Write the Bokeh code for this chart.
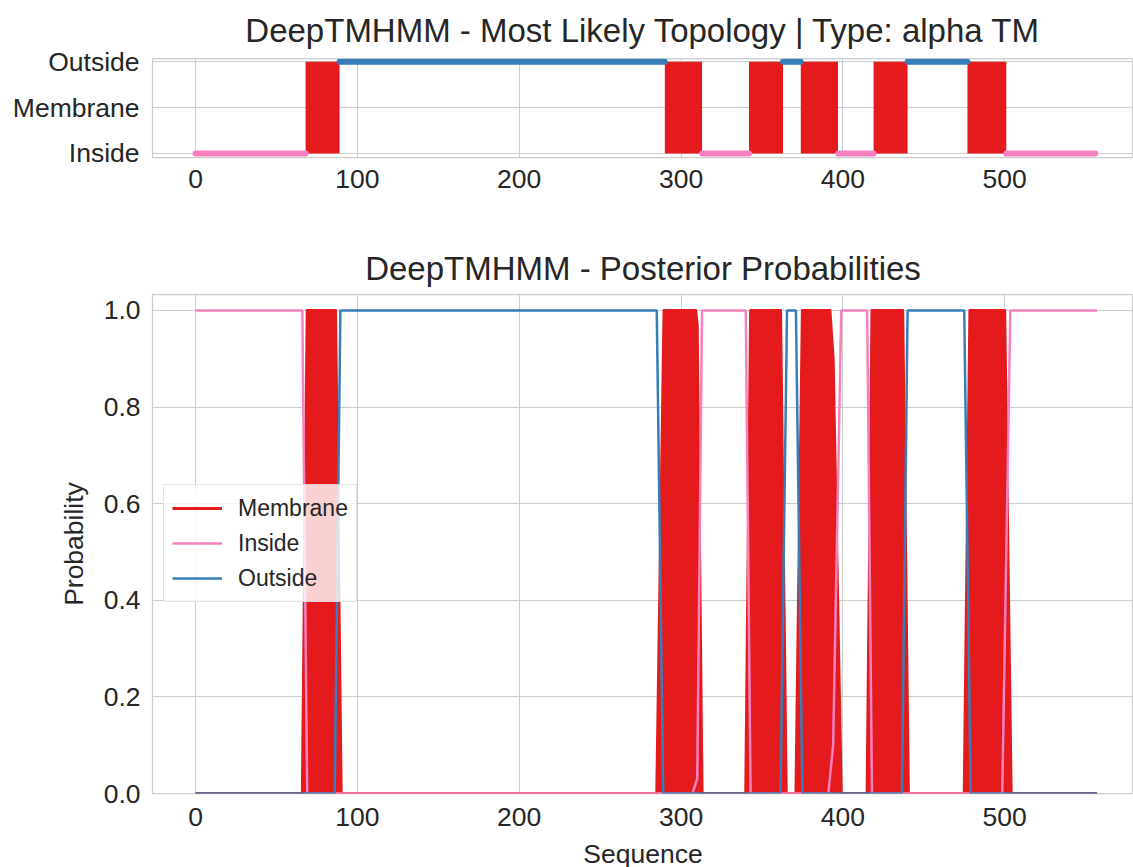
from bokeh.plotting import figure
from bokeh.layouts import column
from bokeh.models import Range1d, FixedTicker, Legend, LegendItem, NumeralTickFormatter
from bokeh.embed import file_html
from bokeh.resources import INLINE

# ---------------- data ----------------
topo_levels = ["Inside", "Membrane", "Outside"]
seg_type = ["Inside", "Membrane", "Outside", "Membrane", "Inside", "Membrane", "Outside",
            "Membrane", "Inside", "Membrane", "Outside", "Membrane", "Inside"]
seg_start = [0, 68, 89, 290, 313, 342, 363, 374, 397, 419, 440, 477, 501]
seg_end = [68, 89, 290, 313, 342, 363, 374, 397, 419, 440, 477, 501, 556]

x_ticks = [0, 100, 200, 300, 400, 500]
prob_ticks = [0.0, 0.2, 0.4, 0.6, 0.8, 1.0]

membrane_x = [0, 66, 69, 86.5, 90, 285, 289.5, 309, 310, 313, 340, 343, 361.5, 365, 371, 375,
              392, 394, 399, 415, 418, 437, 440.5, 475, 478.5, 500, 504, 557]
membrane_p = [0, 0, 1, 1, 0, 0, 1, 1, 0.97, 0, 0, 1, 1, 0, 0, 1,
              1, 0.9, 0, 0, 1, 1, 0, 0, 1, 1, 0, 0]
inside_x = [0, 66, 69, 307, 310, 313, 340, 343, 391, 394, 399, 415, 418, 498.5, 503.5, 557]
inside_p = [1, 1, 0, 0, 0.03, 1, 1, 0, 0, 0.1, 1, 1, 0, 0, 1, 1]
outside_x = [0, 86, 89.5, 285, 289, 361.5, 365.5, 371, 375, 436.5, 440, 475, 479, 557]
outside_p = [0, 0, 1, 1, 0, 0, 1, 1, 0, 0, 1, 1, 0, 0]

# ---------------- style ----------------
RED, PINK, BLUE = "#e41a1c", "#f781bf", "#377eb8"
TXT = "#262626"
FONT = "Liberation Sans"
GRID = "#cccccc"


def style(p, title_size="33px", standoff=10):
    p.outline_line_color = GRID
    p.outline_line_width = 1.25
    p.background_fill_color = "white"
    p.border_fill_color = "white"
    p.title.text_font = FONT
    p.title.text_font_size = title_size
    p.title.text_font_style = "normal"
    p.title.text_color = TXT
    p.title.align = "center"
    p.title.standoff = standoff
    for ax in p.axis:
        ax.axis_line_color = None
        ax.major_tick_line_color = None
        ax.minor_tick_line_color = None
        ax.major_label_text_font = FONT
        ax.major_label_text_font_size = "26.5px"
        ax.major_label_text_color = TXT
        ax.axis_label_text_font = FONT
        ax.axis_label_text_font_size = "26.5px"
        ax.axis_label_text_font_style = "normal"
        ax.axis_label_text_color = TXT
    for g in p.grid:
        g.grid_line_color = GRID
        g.grid_line_width = 1


xr = (-26.6, 579.6)

# ---------------- top: topology ----------------
p1 = figure(frame_width=981, frame_height=99, output_backend="svg", toolbar_location=None,
            x_range=Range1d(*xr), y_range=Range1d(-0.09, 2.07),
            title="DeepTMHMM - Most Likely Topology | Type: alpha TM",
            min_border=0, min_border_left=152, min_border_top=58, min_border_bottom=60,
            min_border_right=0)

lvl = {name: i for i, name in enumerate(topo_levels)}
mem_l = [s for s, t in zip(seg_start, seg_type) if t == "Membrane"]
mem_r = [e for e, t in zip(seg_end, seg_type) if t == "Membrane"]
p1.quad(left=mem_l, right=mem_r, bottom=lvl["Inside"], top=lvl["Outside"],
        fill_color=RED, line_color=None)
for kind, col in (("Inside", PINK), ("Outside", BLUE)):
    s0 = [s for s, t in zip(seg_start, seg_type) if t == kind]
    s1 = [e for e, t in zip(seg_end, seg_type) if t == kind]
    y = [lvl[kind]] * len(s0)
    p1.segment(x0=s0, y0=y, x1=s1, y1=y, line_color=col, line_width=6, line_cap="round")

p1.xaxis.ticker = FixedTicker(ticks=x_ticks)
p1.yaxis.ticker = FixedTicker(ticks=list(range(len(topo_levels))))
p1.yaxis.major_label_overrides = {i: n for i, n in enumerate(topo_levels)}
style(p1, standoff=19)
p1.xaxis.major_label_standoff = 6
p1.yaxis.major_label_standoff = 7

# ---------------- bottom: posterior ----------------
p2 = figure(frame_width=981, frame_height=499, output_backend="svg", toolbar_location=None,
            x_range=Range1d(*xr), y_range=Range1d(0, 1.033),
            title="DeepTMHMM - Posterior Probabilities",
            min_border=0, min_border_left=152, min_border_top=77, min_border_bottom=40,
            min_border_right=0)

p2.varea(x=membrane_x, y1=0, y2=membrane_p, fill_color=RED)
r_mem = p2.line(membrane_x, membrane_p, line_color=RED, line_width=3, line_join="round")
r_in = p2.line(inside_x, inside_p, line_color=PINK, line_width=2.5)
r_out = p2.line(outside_x, outside_p, line_color=BLUE, line_width=2.5)

p2.xaxis.ticker = FixedTicker(ticks=x_ticks)
p2.yaxis.ticker = FixedTicker(ticks=prob_ticks)
p2.yaxis.formatter = NumeralTickFormatter(format="0.0")
p2.xaxis.axis_label = "Sequence"
p2.yaxis.axis_label = "Probability"
style(p2, standoff=15)
p2.xaxis.major_label_standoff = 8
p2.xaxis.axis_label_standoff = 10
p2.yaxis.major_label_standoff = 6
p2.yaxis.axis_label_standoff = 12

legend = Legend(items=[LegendItem(label="Membrane", renderers=[r_mem]),
                       LegendItem(label="Inside", renderers=[r_in]),
                       LegendItem(label="Outside", renderers=[r_out])],
                location=(11, 191))
legend.label_text_font = FONT
legend.label_text_font_size = "23px"
legend.label_text_color = TXT
legend.glyph_width = 50
legend.glyph_height = 30
legend.label_height = 30
legend.spacing = 5
legend.padding = 8
legend.margin = 0
legend.label_standoff = 16
legend.border_line_color = GRID
legend.border_line_width = 1
legend.background_fill_color = "white"
legend.background_fill_alpha = 0.8
p2.add_layout(legend)

layout = column(p1, p2, spacing=0)
open("out.html", "w").write(file_html(layout, INLINE))
